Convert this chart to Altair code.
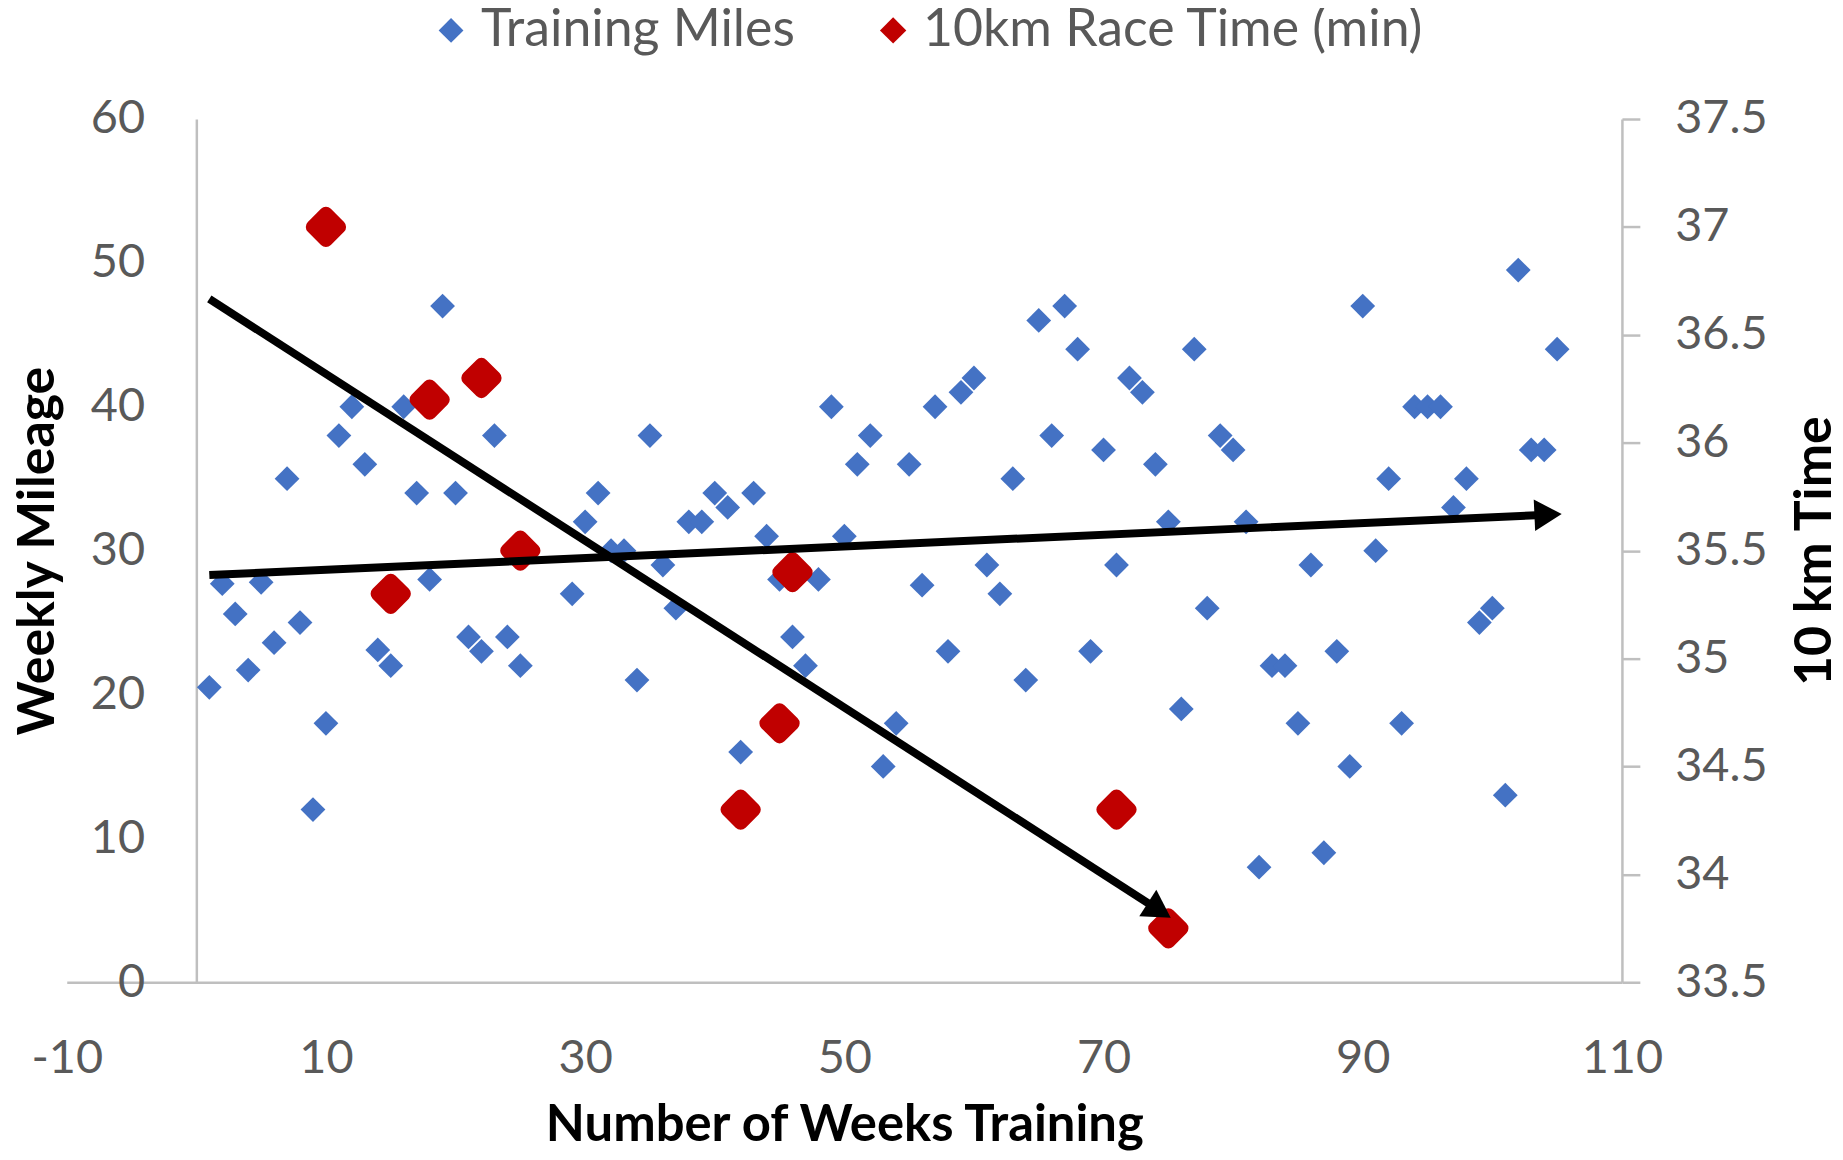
import math
import altair as alt
import pandas as pd

# ---------------- data ----------------
weeks = list(range(1, 26)) + list(range(29, 106))
miles = [20.5, 27.7, 25.6, 21.7, 27.8, 23.6, 35, 25, 12, 18,
         38, 40, 36, 23.1, 22, 40, 34, 28, 47, 34,
         24, 23, 38, 24, 22,
         27, 32, 34, 30, 30, 21, 38, 29, 26, 32,
         32, 34, 33, 16, 34, 31, 28, 24, 22, 28,
         40, 31, 36, 38, 15, 18, 36, 27.6, 40, 23,
         41, 42, 29, 27, 35, 21, 46, 38, 47, 44,
         23, 37, 29, 42, 41, 36, 32, 19, 44, 26,
         38, 37, 32, 8, 22, 22, 18, 29, 9, 23,
         15, 47, 30, 35, 18, 40, 40, 40, 33, 35,
         25, 26, 13, 49.5, 37, 37, 44]

race_weeks = [10, 15, 18, 22, 25, 42, 45, 46, 71, 75]
race_times = [37.0, 35.3, 36.2, 36.3, 35.5, 34.3, 34.7, 35.4, 34.3, 33.75]

trend_names = ["Race time trend", "Mileage trend"]
trend_x_start = [1.0, 1.0]
trend_y_start = [47.5, 28.3]
trend_x_end = [74.3, 104.3]
trend_y_end = [5.0, 32.5]

series_names = ["Training Miles", "10km Race Time (min)"]
series_colors = ["#4472C4", "#C00000"]

x_ticks = [-10, 10, 30, 50, 70, 90, 110]
left_ticks = [0, 10, 20, 30, 40, 50, 60]
right_ticks = [33.5, 34, 34.5, 35, 35.5, 36, 36.5, 37, 37.5]

# ---------------- layout ----------------
W, H = 1562, 867
X_DOM = [-10, 110]
YL_DOM = [0, 60]
YR_DOM = [33.5, 37.5]
GRAY = "#BFBFBF"
LABEL = "#595959"
FONT = "Lato"

df_miles = pd.DataFrame({"week": weeks, "value": miles, "series": series_names[0]})
df_race = pd.DataFrame({"week": race_weeks, "value": race_times, "series": series_names[1]})

line_rows = []
head_rows = []
for n, xs, ys, xe, ye in zip(trend_names, trend_x_start, trend_y_start, trend_x_end, trend_y_end):
    line_rows.append({"trend": n, "x": xs, "y": ys, "o": 0})
    line_rows.append({"trend": n, "x": xe, "y": ye, "o": 1})
    dx = (xe - xs) * W / (X_DOM[1] - X_DOM[0])
    dy = -(ye - ys) * H / (YL_DOM[1] - YL_DOM[0])
    ang = math.degrees(math.atan2(dy, dx)) % 360
    head_rows.append({"trend": n, "x": xe, "y": ye, "angle": ang})
df_lines = pd.DataFrame(line_rows)
df_heads = pd.DataFrame(head_rows)

x_scale = alt.Scale(domain=X_DOM, nice=False, zero=False)
x_axis = alt.Axis(values=x_ticks, labelExpr="datum.value + ''", ticks=False, tickSize=0,
                  grid=False, domainColor=GRAY, domainWidth=2.5, labelFlush=False,
                  labelOverlap=False,
                  labelFont=FONT, labelFontSize=47, labelColor=LABEL,
                  labelPadding=77, labelBaseline="middle",
                  title="Number of Weeks Training", titleFont=FONT, titleFontSize=51,
                  titleFontWeight="bold", titleColor="black",
                  titleX=W / 2, titleY=144, titleBaseline="middle", titleAlign="center")
X = alt.X("x:Q", scale=x_scale, axis=x_axis)

left_axis = alt.Axis(values=left_ticks, orient="left", offset=-W / 12, ticks=False, tickSize=0,
                     grid=False, domainColor=GRAY, domainWidth=2.5, labelFlush=False,
                     labelOverlap=False,
                     labelFont=FONT, labelFontSize=47, labelColor=LABEL,
                     labelPadding=52, labelBaseline="middle", labelAlign="right",
                     title="Weekly Mileage", titleFont=FONT, titleFontSize=52,
                     titleFontWeight="bold", titleColor="black",
                     titleX=-159, titleY=H / 2, titleAngle=270,
                     titleAlign="center", titleBaseline="middle")
right_axis = alt.Axis(values=right_ticks, orient="right", labelExpr="datum.value + ''",
                      ticks=True, tickSize=18, tickColor=GRAY, tickWidth=2.5,
                      grid=False, domainColor=GRAY, domainWidth=2.5, labelFlush=False,
                      labelOverlap=False,
                      labelFont=FONT, labelFontSize=47, labelColor=LABEL,
                      labelPadding=35, labelBaseline="middle", labelAlign="left",
                      title="10 km Time", titleFont=FONT, titleFontSize=52,
                      titleFontWeight="bold", titleColor="black",
                      titleX=193, titleY=H / 2, titleAngle=270,
                      titleAlign="center", titleBaseline="middle")

color_scale = alt.Scale(domain=series_names, range=series_colors)
size_scale = alt.Scale(domain=series_names, range=[620, 700])
legend = alt.Legend(orient="none", legendX=360, legendY=-115, direction="horizontal",
                    title=None, labelFont=FONT, labelFontSize=52, labelColor=LABEL,
                    labelLimit=0, columnPadding=72, labelOffset=4, symbolType="diamond",
                    symbolSize=800, symbolStrokeWidth=0)

blue = alt.Chart(df_miles).mark_point(shape="diamond", filled=True, opacity=1).encode(
    x=alt.X("week:Q", scale=x_scale, axis=x_axis),
    y=alt.Y("value:Q", scale=alt.Scale(domain=YL_DOM, nice=False), axis=left_axis),
    color=alt.Color("series:N", scale=color_scale, legend=legend),
    size=alt.Size("series:N", scale=size_scale, legend=None),
)

red = alt.Chart(df_race).mark_point(shape="diamond", filled=True, opacity=1,
                                    strokeJoin="round").encode(
    x=alt.X("week:Q", scale=x_scale, axis=x_axis),
    y=alt.Y("value:Q", scale=alt.Scale(domain=YR_DOM, nice=False, zero=False), axis=right_axis),
    color=alt.Color("series:N", scale=color_scale, legend=legend),
    size=alt.Size("series:N", scale=size_scale, legend=None),
    stroke=alt.value("#C00000"),
    strokeWidth=alt.value(14),
)

lines = alt.Chart(df_lines).mark_line(color="black", strokeWidth=8, strokeCap="butt").encode(
    x=X,
    y=alt.Y("y:Q", scale=alt.Scale(domain=YL_DOM, nice=False), axis=None),
    detail="trend:N",
    order="o:Q",
)

heads = alt.Chart(df_heads).mark_point(shape="triangle-right", filled=True, color="black",
                                       size=1000, opacity=1).encode(
    x=X,
    y=alt.Y("y:Q", scale=alt.Scale(domain=YL_DOM, nice=False), axis=None),
    angle=alt.Angle("angle:Q", scale=None),
)

chart = alt.layer(blue, red, lines, heads).resolve_scale(y="independent").properties(
    width=W, height=H,
    autosize=alt.AutoSizeParams(type="none"),
    padding={"left": 59, "top": 109, "right": 214, "bottom": 168},
    background="white",
).configure_view(stroke=None)

chart.save("out.html", embed_options={"renderer": "svg", "actions": False})
